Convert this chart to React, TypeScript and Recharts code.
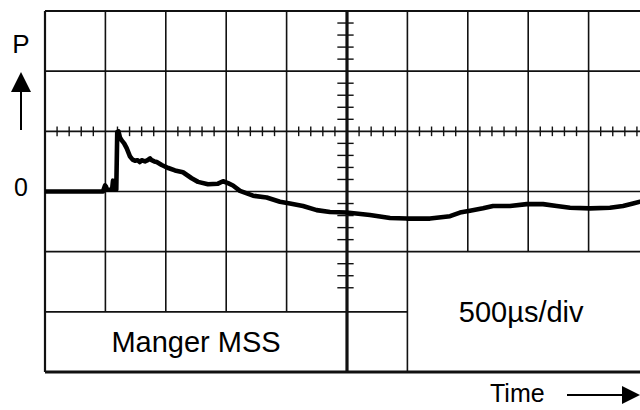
import { Line, LineChart, ReferenceArea, ReferenceLine, XAxis, YAxis } from 'recharts';

// time in µs (500 µs per division), pressure in screen divisions
const TIME_US = [
  0, 480, 497, 505, 513, 555, 563, 571, 590, 598, 608, 620, 635, 655, 676, 704, 725, 745, 765, 786,
  800, 828, 850, 870, 883, 905, 925, 966, 1021, 1076, 1142, 1214, 1267, 1349, 1432, 1474, 1515, 1556,
  1614, 1722, 1835, 1945, 2028, 2136, 2249, 2359, 2498, 2690, 2856, 2994, 3187, 3353, 3435, 3518,
  3626, 3709, 3849, 3988, 4123, 4236, 4346, 4512, 4677, 4785, 4868, 4926, 5000,
];
const PRESSURE_DIV = [
  0, 0, 0.1, 0.08, 0.03, 0.03, 0.18, 0.03, 0.03, 0.99, 1.0, 0.9, 0.85, 0.8, 0.72, 0.58, 0.53, 0.51,
  0.52, 0.49, 0.52, 0.5, 0.52, 0.55, 0.52, 0.5, 0.49, 0.44, 0.39, 0.35, 0.32, 0.22, 0.16, 0.12, 0.13,
  0.17, 0.14, 0.1, 0.01, -0.07, -0.1, -0.17, -0.2, -0.24, -0.31, -0.34, -0.35, -0.39, -0.44, -0.45,
  -0.45, -0.41, -0.35, -0.32, -0.28, -0.24, -0.24, -0.21, -0.21, -0.24, -0.27, -0.28, -0.27, -0.24,
  -0.2, -0.17, -0.15,
];

const DIV = 500;
const X_END = 10 * DIV;
const CENTER = 5 * DIV;

const data = TIME_US.map((t, i) => ({ t, p: PRESSURE_DIV[i] }));

const INK = '#111';
const FONT = '"Liberation Sans", Arial, Helvetica, sans-serif';

type Pt = { x: number; y: number };

function seg(key: string, a: Pt, b: Pt, w = 1.6) {
  return <ReferenceLine key={key} segment={[a, b]} stroke={INK} strokeWidth={w} ifOverflow="visible" />;
}

function gridLines() {
  const out = [];
  // horizontal divisions
  for (const y of [2, 1, 0, -1]) out.push(seg(`h${y}`, { x: 0, y }, { x: X_END, y }));
  out.push(seg('h-2', { x: 0, y: -2 }, { x: 6 * DIV, y: -2 }));
  // vertical divisions
  for (const d of [1, 2, 3, 4]) out.push(seg(`v${d}`, { x: d * DIV, y: 3 }, { x: d * DIV, y: -2 }));
  out.push(seg('v6', { x: 6 * DIV, y: 3 }, { x: 6 * DIV, y: -3 }));
  for (const d of [7, 8, 9]) out.push(seg(`v${d}`, { x: d * DIV, y: 3 }, { x: d * DIV, y: -1 }));
  // minor ticks on the +1 line
  for (let i = 1; i < 50; i++) {
    if (i % 5 === 0) continue;
    const x = i * 100;
    out.push(seg(`tx${i}`, { x, y: 0.92 }, { x, y: 1.08 }, 1.4));
  }
  // minor ticks on the centre vertical
  for (let i = 2; i < 25; i++) {
    if (i % 5 === 0) continue;
    const y = -2 + i / 5;
    out.push(seg(`ty${i}`, { x: CENTER - 80, y }, { x: CENTER + 55, y }, 1.4));
  }
  // frame + centre line
  out.push(seg('top', { x: 0, y: 3 }, { x: X_END, y: 3 }, 2));
  out.push(seg('bottom', { x: 0, y: -3 }, { x: X_END, y: -3 }, 3));
  out.push(seg('left', { x: 0, y: 3 }, { x: 0, y: -3 }, 2.2));
  out.push(seg('centre', { x: CENTER, y: 3 }, { x: CENTER, y: -3 }, 3.2));
  return out;
}

export default function App() {
  return (
    <div style={{ position: 'fixed', left: 0, top: 0, width: 640, height: 410, overflow: 'hidden', background: '#fff' }}>
      <LineChart
        width={660}
        height={410}
        data={data}
        margin={{ top: 11, right: 11, bottom: 38, left: 45 }}
        style={{ fontFamily: FONT }}
      >
        <XAxis dataKey="t" type="number" domain={[0, X_END]} hide />
        <YAxis type="number" domain={[-3, 3]} hide />
        {gridLines()}
        <ReferenceArea
          x1={0}
          x2={CENTER}
          y1={-3}
          y2={-2}
          fill="none"
          stroke="none"
          label={{ value: 'Manger MSS', position: 'center', fontSize: 29, fill: '#000', fontFamily: FONT }}
        />
        <ReferenceArea
          x1={6 * DIV}
          x2={X_END}
          y1={-3}
          y2={-1}
          fill="none"
          stroke="none"
          label={{ value: '500µs/div', position: 'center', fontSize: 29, fill: '#000', fontFamily: FONT, dx: -7 }}
        />
        <Line
          type="linear"
          dataKey="p"
          stroke="#000"
          strokeWidth={4.6}
          strokeLinejoin="round"
          dot={false}
          isAnimationActive={false}
        />
      </LineChart>
      <svg width={640} height={410} style={{ position: 'absolute', left: 0, top: 0, pointerEvents: 'none' }}>
        <g fontFamily={FONT} fill="#000">
          <text x={21} y={53} fontSize={26} textAnchor="middle">P</text>
          <text x={21} y={196} fontSize={25} textAnchor="middle">0</text>
          <text x={490} y={402} fontSize={25}>Time</text>
        </g>
        <polygon points="21,72 11,92 31,92" fill="#000" />
        <line x1={21} y1={91} x2={21} y2={130} stroke="#000" strokeWidth={2} />
        <line x1={567} y1={395} x2={624} y2={395} stroke="#000" strokeWidth={2} />
        <polygon points="622,386 640,395 622,404" fill="#000" />
      </svg>
    </div>
  );
}
